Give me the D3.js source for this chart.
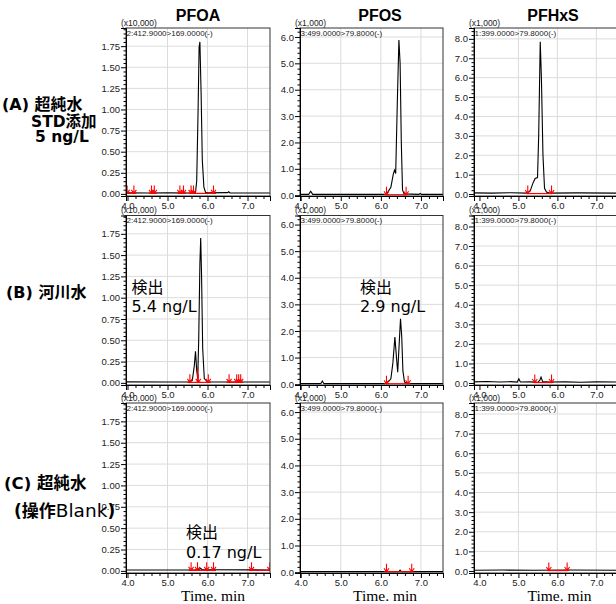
<!DOCTYPE html>
<html><head><meta charset="utf-8">
<script src="https://cdn.jsdelivr.net/npm/d3@7"></script>
<style>body{margin:0;background:#fff;} svg{display:block}</style>
</head><body>
<svg id="c" width="616" height="604"></svg>
<script>
// ---------- data ----------
const compounds = ["PFOA", "PFOS", "PFHxS"];
const transitions = ["2:412.9000>169.0000(-)", "3:499.0000>79.8000(-)", "1:399.0000>79.8000(-)"];
const multipliers = ["(x10,000)", "(x1,000)", "(x1,000)"];
const yTicksPFOA = [0, 0.25, 0.5, 0.75, 1, 1.25, 1.5, 1.75];
const yTicksPFOS = [0, 1, 2, 3, 4, 5, 6];
const yTicksPFHxS = [0, 1, 2, 3, 4, 5, 6, 7, 8];
const xTicks = [4, 5, 6, 7];
const xAxisTitle = "Time. min";

// traces [time (min), intensity]
const A_PFOA = [[3.96,0.012],[4.5,0.01],[5.0,0.012],[5.6,0.01],[5.70,0.02],[5.73,0.15],[5.765,1.0],[5.79,1.74],[5.81,1.80],[5.84,1.2],[5.87,0.4],[5.91,0.08],[5.95,0.02],[6.0,0.012],[6.5,0.015],[6.53,0.025],[6.56,0.012],[7.56,0.01]];
const A_PFOS = [[3.97,0.03],[4.2,0.03],[4.25,0.15],[4.3,0.03],[6.10,0.03],[6.15,0.06],[6.25,0.3],[6.31,0.8],[6.34,0.95],[6.37,0.82],[6.41,3.5],[6.45,5.88],[6.48,5.0],[6.51,2.0],[6.54,0.2],[6.58,0.05],[6.95,0.03],[6.98,0.07],[7.01,0.03],[7.56,0.03]];
const A_PFHxS = [[3.86,0.06],[4.3,0.05],[4.8,0.07],[5.2,0.05],[5.3,0.15],[5.38,0.6],[5.43,0.8],[5.49,0.85],[5.52,3.0],[5.56,7.85],[5.59,6.0],[5.63,2.0],[5.67,0.3],[5.72,0.1],[5.8,0.05],[6.5,0.06],[7.53,0.05]];
const B_PFOA = [[3.96,0.012],[5.0,0.01],[5.55,0.012],[5.62,0.03],[5.67,0.2],[5.70,0.37],[5.73,0.15],[5.755,0.05],[5.78,0.5],[5.81,1.4],[5.83,1.70],[5.85,1.3],[5.88,0.4],[5.92,0.05],[6.0,0.012],[7.56,0.01]];
const B_PFOS = [[3.97,0.02],[4.5,0.02],[4.54,0.12],[4.58,0.02],[6.1,0.02],[6.19,0.1],[6.25,0.2],[6.30,0.8],[6.35,1.77],[6.39,1.0],[6.42,0.45],[6.46,1.6],[6.49,2.46],[6.52,1.8],[6.55,0.5],[6.59,0.08],[6.7,0.02],[7.56,0.02]];
const B_PFHxS = [[3.86,0.06],[4.2,0.08],[4.5,0.05],[4.8,0.07],[4.97,0.05],[5.01,0.22],[5.05,0.05],[5.3,0.06],[5.5,0.04],[5.55,0.15],[5.58,0.3],[5.62,0.08],[5.8,0.05],[6.2,0.06],[6.6,0.04],[7.0,0.06],[7.53,0.05]];
const C_PFOA = [[3.96,0.01],[5.7,0.012],[5.8,0.02],[5.83,0.03],[5.86,0.015],[7.56,0.01]];
const C_PFOS = [[3.98,0.02],[6.45,0.02],[6.48,0.08],[6.51,0.02],[7.55,0.02]];
const C_PFHxS = [[3.86,0.04],[4.6,0.05],[5.4,0.04],[6.3,0.05],[7.53,0.04]];

// integration marks (red): arrow times, baseline segments, drop lines
const A_PFOA_marks = [3.99, 4.16, 4.6, 4.67, 5.31, 5.4, 5.59, 5.65, 6.15];
const A_PFOA_segs = [[3.99,4.16],[4.6,4.67],[5.31,5.4],[5.59,5.65],[5.65,6.15]];
const A_PFOS_marks = [6.14, 6.63];
const A_PFOS_segs = [[6.14,6.62]];
const A_PFHxS_marks = [5.24, 5.85];
const A_PFHxS_segs = [[5.24,5.85]];
const B_PFOA_marks = [5.56, 5.77, 6.02, 6.54, 6.73, 6.78, 6.83];
const B_PFOA_segs = [[5.56,5.755],[5.755,6.02],[6.54,6.83]];
const B_PFOA_drops = [[5.755, 0.18]];
const B_PFOS_marks = [6.14, 6.68];
const B_PFOS_segs = [[6.14,6.68]];
const B_PFHxS_marks = [5.42, 5.85];
const B_PFHxS_segs = [[5.42,5.85]];
const C_PFOA_marks = [5.59, 5.75, 5.98, 6.15, 7.1, 7.56];
const C_PFOA_segs = [[5.59,5.75],[5.75,5.98],[5.98,6.15],[7.1,7.56]];
const C_PFOS_marks = [6.14, 6.77];
const C_PFOS_segs = [[6.14,6.77]];
const C_PFHxS_marks = [5.78, 6.25];
const C_PFHxS_segs = [[5.78,6.25]];

const traces = [[A_PFOA, A_PFOS, A_PFHxS],[B_PFOA, B_PFOS, B_PFHxS],[C_PFOA, C_PFOS, C_PFHxS]];
const marks = [[A_PFOA_marks, A_PFOS_marks, A_PFHxS_marks],[B_PFOA_marks, B_PFOS_marks, B_PFHxS_marks],[C_PFOA_marks, C_PFOS_marks, C_PFHxS_marks]];
const segs = [[A_PFOA_segs, A_PFOS_segs, A_PFHxS_segs],[B_PFOA_segs, B_PFOS_segs, B_PFHxS_segs],[C_PFOA_segs, C_PFOS_segs, C_PFHxS_segs]];
const drops = [[[],[],[]],[B_PFOA_drops,[],[]],[[],[],[]]];

// detection annotations: [row, col, line1, line2]
const annotations = [[1,0,"検出","5.4 ng/L"],[1,1,"検出","2.9 ng/L"],[2,0,"検出","0.17 ng/L"]];

// ---------- layout ----------
const svg = d3.select("#c");
const FONT = "'Liberation Sans', Arial, sans-serif";
const cols = [
  {x0:126, x1:270, xd:[3.9625,7.5625], yd:[-0.025,1.965], ticks:yTicksPFOA, minor:0.05, fmt:".2f", title:198, tx:213},
  {x0:300, x1:443, xd:[3.983,7.55],   yd:[-0.03,6.34],   ticks:yTicksPFOS, minor:0.2, fmt:".1f", title:380, tx:385},
  {x0:474, x1:617, xd:[3.86,7.53],    yd:[-0.1,8.56],    ticks:yTicksPFHxS, minor:0.2, fmt:".1f", title:553, tx:559.5}
];
const rows = [{y0:28, y1:196},{y0:215.5, y1:385},{y0:403, y1:573}];

// titles
cols.forEach((c,i)=>{
  svg.append("text").attr("x", c.title).attr("y", 20.5).attr("text-anchor","middle")
    .style("font-family", FONT).style("font-weight","bold").style("font-size","16px").text(compounds[i]);
  svg.append("text").attr("x", c.tx).attr("y", 601).attr("text-anchor","middle")
    .style("font-family","'Liberation Serif','Times New Roman',serif").style("font-size","15.5px").text(xAxisTitle);
});

const defs = svg.append("defs");

rows.forEach((r, ri)=>{
  cols.forEach((c, ci)=>{
    const x = d3.scaleLinear().domain(c.xd).range([c.x0, c.x1]);
    const y = d3.scaleLinear().domain(c.yd).range([r.y1, r.y0]);
    const g = svg.append("g");
    const cid = `clip${ri}${ci}`;
    defs.append("clipPath").attr("id", cid).append("rect")
      .attr("x", c.x0).attr("y", r.y0).attr("width", c.x1-c.x0).attr("height", r.y1-r.y0);

    // grid
    g.selectAll(".gx").data(xTicks.filter(t=>t>4)).join("line")
      .attr("x1", d=>x(d)).attr("x2", d=>x(d)).attr("y1", r.y0).attr("y2", r.y1)
      .attr("stroke","#dcdcdc").attr("stroke-width",1);
    g.selectAll(".gy").data(c.ticks.filter(t=>t>0)).join("line")
      .attr("x1", c.x0).attr("x2", c.x1).attr("y1", d=>y(d)).attr("y2", d=>y(d))
      .attr("stroke","#dcdcdc").attr("stroke-width",1);

    const pg = g.append("g").attr("clip-path", `url(#${cid})`);
    // trace
    pg.append("path").datum(traces[ri][ci])
      .attr("d", d3.line().x(d=>x(d[0])).y(d=>y(d[1])))
      .attr("fill","none").attr("stroke","#000").attr("stroke-width",1.1);

    // red integration baseline segments
    const base = y(0) - 0.5;
    pg.selectAll(".seg").data(segs[ri][ci]).join("line")
      .attr("x1", d=>x(d[0])).attr("x2", d=>x(d[1])).attr("y1", base).attr("y2", base)
      .attr("stroke","#ff0000").attr("stroke-width",1.2);
    pg.selectAll(".drop").data(drops[ri][ci]).join("line")
      .attr("x1", d=>x(d[0])).attr("x2", d=>x(d[0])).attr("y1", base).attr("y2", d=>y(d[1]))
      .attr("stroke","#ff0000").attr("stroke-width",1.2);
    // red arrows
    const arr = pg.selectAll(".mk").data(marks[ri][ci]).join("g")
      .attr("transform", d=>`translate(${x(d)},${base})`);
    arr.append("path").attr("d","M0,-8V0M-2.5,-3.5L0,0L2.5,-3.5M-2.5,0H2.5")
      .attr("fill","none").attr("stroke","#ff0000").attr("stroke-width",1.1);

    // frame
    g.append("rect").attr("x", c.x0).attr("y", r.y0).attr("width", c.x1-c.x0).attr("height", r.y1-r.y0)
      .attr("fill","none").attr("stroke","#333").attr("stroke-width",1);

    // axes
    const yMinor = d3.range(0, c.yd[1], c.minor).filter(v=>!c.ticks.some(t=>Math.abs(t-v)<1e-6));
    const ya = g.append("g").attr("transform", `translate(${c.x0},0)`)
      .call(d3.axisLeft(y).tickValues(c.ticks).tickSize(5).tickPadding(1).tickFormat(d3.format(c.fmt)));
    const ym = g.append("g").attr("transform", `translate(${c.x0},0)`)
      .call(d3.axisLeft(y).tickValues(yMinor).tickSize(2.5).tickFormat(""));
    const xMinor = d3.range(4, c.xd[1], 0.2).filter(v=>!xTicks.some(t=>Math.abs(t-v)<1e-6));
    const xa = g.append("g").attr("transform", `translate(0,${r.y1})`)
      .call(d3.axisBottom(x).tickValues(xTicks).tickSize(5).tickPadding(1).tickFormat(d3.format(".1f")));
    const xm = g.append("g").attr("transform", `translate(0,${r.y1})`)
      .call(d3.axisBottom(x).tickValues(xMinor).tickSize(3).tickFormat(""));
    [ya, ym, xa, xm].forEach(a=>{
      a.select(".domain").attr("stroke","#000");
      a.selectAll(".tick line").attr("stroke","#000");
      a.selectAll("text").style("font-family", FONT).style("font-size","9.5px").attr("fill","#222");
    });

    // headers
    g.append("text").attr("x", c.x0 - 5).attr("y", r.y0 - 2.5)
      .style("font-family", FONT).style("font-size","8.5px").attr("fill","#222").text(multipliers[ci]);
    g.append("text").attr("x", c.x0 + 0.5).attr("y", r.y0 + 7.5)
      .style("font-family", FONT).style("font-size","8px").attr("fill","#222").text(transitions[ci]);
  });
});

// annotations
const annPos = [[131.5, 293, 312],[360, 293, 312],[186, 538, 557.5]];
annotations.forEach((a, i)=>{
  const [xx, b1, b2] = annPos[i];
  const t = svg.append("g").style("font-family","'DejaVu Sans','Noto Sans CJK JP',sans-serif").style("font-size","16px");
  t.append("text").attr("x", xx).attr("y", b1).style("font-family","'Noto Sans CJK JP',sans-serif").text(a[2]);
  t.append("text").attr("x", xx).attr("y", b2).text(a[3]);
});

// row labels
const LF = "'DejaVu Sans','Noto Sans CJK JP',sans-serif";
function label(x, y, parts){
  const t = svg.append("text").attr("x", x).attr("y", y).style("font-family", LF);
  parts.forEach(([s, bold, size])=> t.append("tspan").style("font-weight", bold?"bold":"normal").style("font-size", size+"px").text(s));
}
label(2, 110, [["(A) 超純水", true, 16]]);
label(31, 126.5, [["STD添加", true, 15.5]]);
label(35, 142, [["5 ng/L", true, 15.5]]);
label(6, 298, [["(B) 河川水", true, 16]]);
label(4, 489, [["(C) 超純水", true, 16.5]]);
label(14, 517, [["(操作", true, 17],["Blank", false, 18.5],[")", true, 17]]);
</script>
</body></html>
